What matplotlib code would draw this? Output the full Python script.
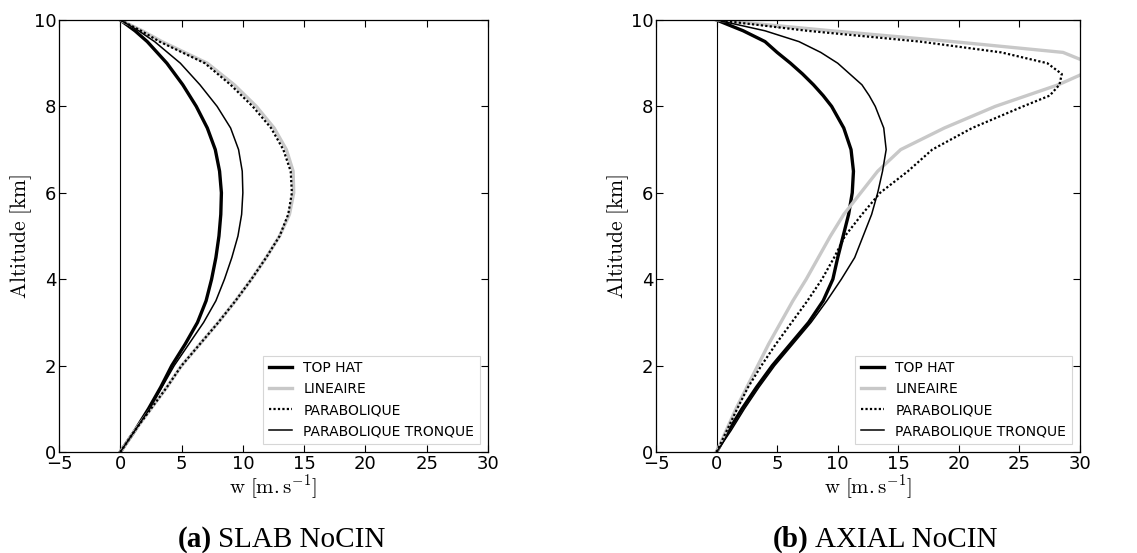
import matplotlib
matplotlib.use('Agg')
import matplotlib.pyplot as plt
import numpy as np

plt.rcParams['mathtext.fontset'] = 'cm'
plt.rcParams['font.family'] = 'DejaVu Sans'

labels = ['TOP HAT', 'LINEAIRE', 'PARABOLIQUE', 'PARABOLIQUE TRONQUE']

# (a) SLAB NoCIN -- altitude (km) and vertical velocity w (m/s)
z_slab = [0, 0.5, 1, 1.5, 2, 2.5, 3, 3.5, 4, 4.5, 5, 5.5, 6, 6.5, 7, 7.5, 8, 8.5, 9, 9.5, 9.75, 10]
slab_tophat = [0, 1.2, 2.3, 3.3, 4.2, 5.3, 6.3, 7.0, 7.45, 7.8, 8.05, 8.2, 8.25, 8.1, 7.75, 7.1, 6.2, 5.1, 3.8, 2.2, 1.2, 0]
slab_lineaire = [0, 1.2, 2.5, 3.8, 5.0, 6.5, 8.0, 9.4, 10.7, 11.9, 13.0, 13.8, 14.15, 14.1, 13.55, 12.55, 11.1, 9.3, 7.1, 3.4, 1.8, 0]
slab_parab = [0, 1.2, 2.5, 3.8, 5.0, 6.5, 8.0, 9.4, 10.7, 11.9, 13.0, 13.7, 14.0, 13.9, 13.3, 12.3, 10.8, 9.0, 6.9, 3.2, 1.7, 0]
slab_tronque = [0, 1.2, 2.4, 3.4, 4.4, 5.6, 6.8, 7.8, 8.5, 9.1, 9.6, 9.9, 10.0, 9.95, 9.65, 9.0, 7.9, 6.5, 4.9, 2.8, 1.5, 0]

# (b) AXIAL NoCIN
z_axial = [0, 0.5, 1, 1.5, 2, 2.5, 3, 3.5, 4, 4.5, 5, 5.5, 6, 6.5, 7, 7.5, 8,
           8.25, 8.5, 8.75, 9, 9.25, 9.5, 9.75, 10]
axial_tophat = [0, 1.0, 2.1, 3.3, 4.6, 6.1, 7.6, 8.8, 9.6, 10.0, 10.45, 10.9, 11.2, 11.3, 11.1, 10.5, 9.5,
                8.8, 8.0, 7.1, 6.1, 5.0, 4.0, 2.2, 0]
axial_lineaire = [0, 0.8, 1.6, 2.5, 3.4, 4.3, 5.3, 6.3, 7.4, 8.4, 9.4, 10.5, 11.9, 13.3, 15.2, 18.8, 23.0,
                  25.6, 28.2, 30.2, 30.8, 28.6, 19.5, 9.5, 0]
axial_parab = [0, 0.85, 1.7, 2.6, 3.7, 4.9, 6.2, 7.5, 8.7, 9.7, 10.6, 12.0, 13.5, 15.8, 17.8, 21.1, 25.3,
               27.5, 28.3, 28.5, 27.3, 23.5, 16.8, 7.5, 0]
axial_tronque = [0, 1.2, 2.3, 3.5, 4.8, 6.3, 7.8, 9.1, 10.3, 11.4, 12.1, 12.8, 13.3, 13.7, 14.0, 13.8, 13.1,
                 12.6, 12.0, 11.0, 10.0, 8.6, 6.8, 4.0, 0]

fig = plt.figure(figsize=(11.37, 5.53), dpi=100)
ax1 = fig.add_axes([59 / 1137, 1 - 452 / 553, 429 / 1137, 432 / 553])
ax2 = fig.add_axes([656 / 1137, 1 - 452 / 553, 424 / 1137, 432 / 553])

panels = [
    (ax1, z_slab, slab_tophat, slab_lineaire, slab_parab, slab_tronque),
    (ax2, z_axial, axial_tophat, axial_lineaire, axial_parab, axial_tronque),
]

for ax, zz, th, li, pa, tr in panels:
    ax.axvline(0, color='black', lw=0.8)
    ax.plot(th, zz, color='black', lw=2.4, label=labels[0])
    ax.plot(li, zz, color='#c8c8c8', lw=2.4, label=labels[1])
    ax.plot(pa, zz, color='black', lw=1.6, ls=(0, (1, 1)), label=labels[2])
    ax.plot(tr, zz, color='black', lw=1.1, label=labels[3])

    ax.set_xlim(-5, 30)
    ax.set_ylim(0, 10)
    ax.set_xticks([-5, 0, 5, 10, 15, 20, 25, 30])
    ax.set_yticks([0, 2, 4, 6, 8, 10])
    ax.tick_params(direction='in', top=True, right=True, length=5, width=0.8,
                   labelsize=13, pad=2)
    for s in ax.spines.values():
        s.set_linewidth(0.9)
    ax.set_xlabel(r'$\mathrm{w\ [m.s^{-1}]}$', fontsize=15, labelpad=0)
    ax.set_ylabel(r'$\mathrm{Altitude\ [km]}$', fontsize=15.5, labelpad=0)
    leg = ax.legend(loc='lower right', fontsize=10, frameon=True, fancybox=False,
                    borderaxespad=0.6, handlelength=1.7, labelspacing=0.5)
    leg.get_frame().set_edgecolor('#cccccc')
    leg.get_frame().set_linewidth(0.8)

# captions: bold panel letter then the title
serif = ['Liberation Serif', 'DejaVu Serif']
renderer = fig.canvas.get_renderer()
for x0, letter, title in [(178, '(a)', 'SLAB NoCIN'), (773, '(b)', 'AXIAL NoCIN')]:
    t = fig.text(x0 / 1137, 1 - 547 / 553, letter, fontsize=21, fontweight='bold',
                 family=serif, ha='left', va='baseline')
    bb = t.get_window_extent(renderer)
    fig.text((bb.x1 + 6) / 1137, 1 - 547 / 553, title, fontsize=21, family=serif,
             ha='left', va='baseline')

fig.savefig('out.png', dpi=100, facecolor='white')
